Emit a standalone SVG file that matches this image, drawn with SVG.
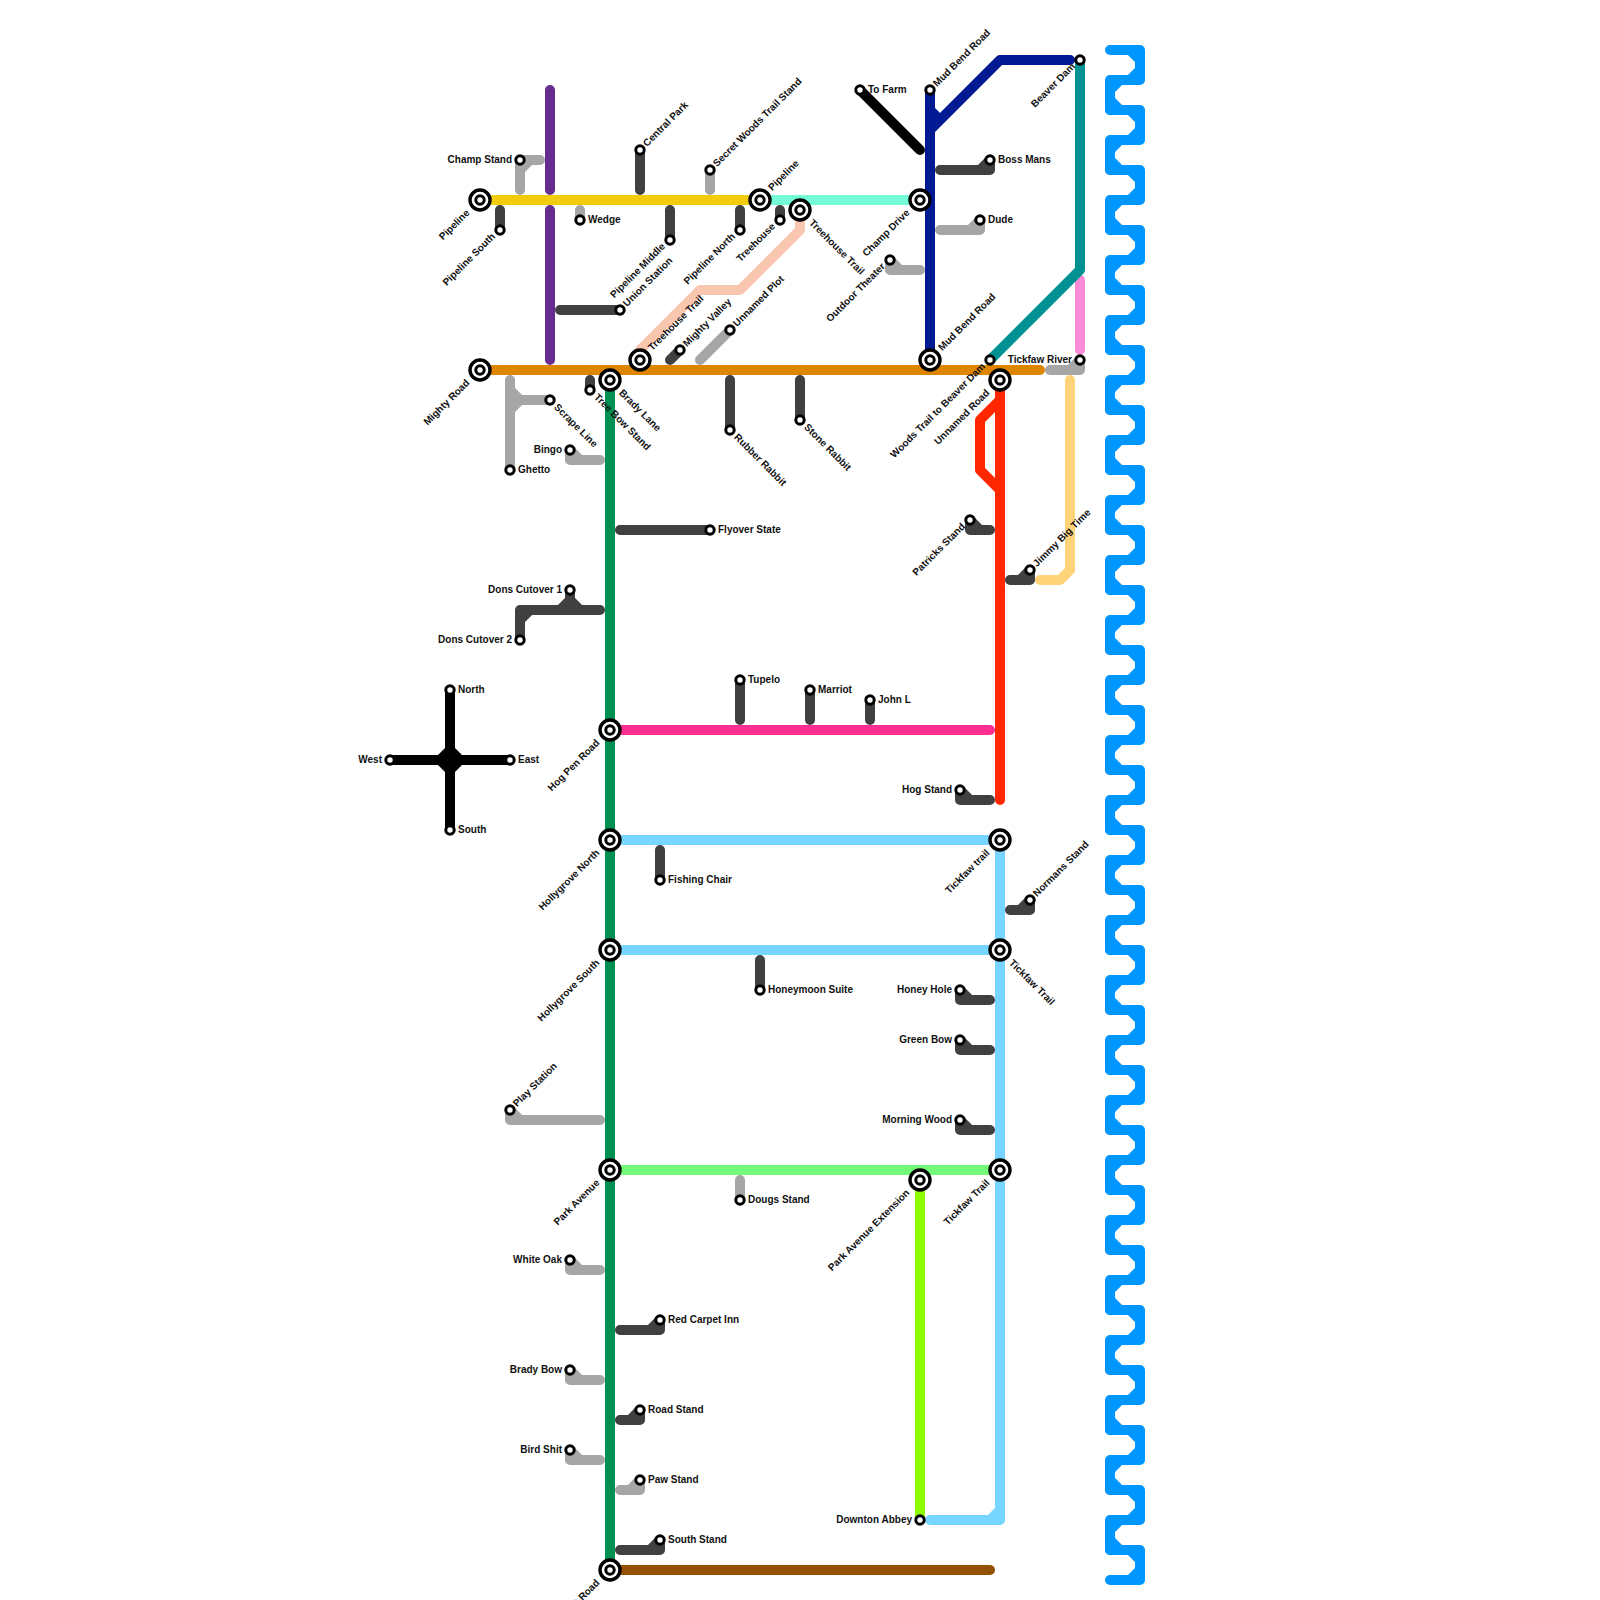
<svg xmlns="http://www.w3.org/2000/svg" width="1600" height="1600" viewBox="0 0 1600 1600">
<style>
.l{fill:none;stroke-width:10;stroke-linecap:round;stroke-linejoin:round}
.dk{stroke:#404040}.gy{stroke:#a6a6a6}.bl{stroke:#000}
.sq{stroke:#0096ff}
.sm{fill:#fff;stroke:#000;stroke-width:3}
.o{fill:#fff;stroke:#000;stroke-width:3.4}
text{font-family:"Liberation Sans",Arial,sans-serif;font-size:10px;font-weight:700;fill:#111}
.e{text-anchor:end}
</style>
<defs>
<circle id="sm" class="sm" r="4.2"/>
<g id="big"><circle class="o" r="10"/><use href="#sm"/></g>
<g id="p1"><path class="l sq" d="M1110 50h30v30h-30v30"/><path class="l sq" style="stroke-linecap:butt" d="M1130 50l10 10m0 10l-10 10m-10 0l-10 10m0 10l10 10"/></g>
<g id="p5"><use href="#p1"/><use href="#p1" y="60"/><use href="#p1" y="120"/><use href="#p1" y="180"/><use href="#p1" y="240"/></g>
</defs>
<rect width="1600" height="1600" fill="#fff"/>
<g id="connectors">
<g id="squiggle"><use href="#p5"/><use href="#p5" y="300"/><use href="#p5" y="600"/><use href="#p5" y="900"/><use href="#p5" y="1200"/><path class="l sq" d="M1110 1550h30v30h-30"/><path class="l sq" style="stroke-linecap:butt" d="M1130 1550l10 10m0 10l-10 10"/></g>
<path class="l" stroke="#662d91" d="M550 90V190M550 210V360"/>
<path class="l gy" d="M520 190V160H540M520 170L530 160"/>
<path class="l dk" d="M640 150V190"/>
<path class="l gy" d="M710 170V190M580 220V210"/>
<path class="l dk" d="M500 230V210M670 240V210M740 230V210M780 220V210M620 310H560M680 350L670 360"/>
<path class="l gy" d="M730 330L700 360"/>
<path class="l" stroke="#f9c7b0" d="M800 210V230L740 290H700L640 350V360"/>
<path class="l" stroke="#f2cd0f" d="M480 200H760"/>
<path class="l" stroke="#73fcd6" d="M760 200H920"/>
<path class="l" stroke="#df8600" d="M480 370H1040"/>
<path class="l gy" d="M510 380V470M550 400H510M510 390L520 400M520 400L510 410"/>
<path class="l dk" d="M590 390V380"/>
<path class="l gy" d="M600 460H570V450M580 460L570 450"/>
<path class="l dk" d="M600 610H520V640M530 610L520 620M570 590V610M560 610L570 600L580 610"/>
<path class="l dk" d="M730 380V430M800 380V420M620 530H710M740 680V720M810 690V720M870 700V720M660 850V880M760 960V990"/>
<path class="l" stroke="#009051" d="M610 380V1570"/>
<path class="l" stroke="#ff2f92" d="M610 730H990"/>
<path class="l" stroke="#76d6ff" d="M610 840H1000M610 950H1000M1000 840V1520H930M990 1520L1000 1510"/>
<path class="l" stroke="#73fa79" d="M610 1170H1000"/>
<path class="l" stroke="#8efa00" d="M920 1180V1520"/>
<path class="l" stroke="#945200" d="M610 1570H990"/>
<path class="l" stroke="#ff2600" d="M1000 380V800M1000 400L980 420V470L1000 490"/>
<path class="l" stroke="#ffd479" d="M1040 580H1060L1070 570V380"/>
<path class="l dk" d="M990 530H970V520M980 530L970 520M1010 580H1030V570M1020 580L1030 570M1010 910H1030V900M1020 910L1030 900"/>
<path class="l dk" d="M990 800H960V790M970 800L960 790M990 1000H960V990M970 1000L960 990M990 1050H960V1040M970 1050L960 1040M990 1130H960V1120M970 1130L960 1120"/>
<path class="l gy" d="M600 1120H510V1110M520 1120L510 1110M740 1200V1180M600 1270H570V1260M580 1270L570 1260M600 1380H570V1370M580 1380L570 1370M600 1460H570V1450M580 1460L570 1450M620 1490H640V1480M630 1490L640 1480"/>
<path class="l dk" d="M620 1330H660V1320M650 1330L660 1320M620 1420H640V1410M630 1420L640 1410M620 1550H660V1540M650 1550L660 1540"/>
<path class="l" stroke="#ff8ad8" d="M1080 280V350"/>
<path class="l" stroke="#009193" d="M1080 60V270L990 360"/>
<path class="l gy" d="M1050 370H1080V360M1070 370L1080 360"/>
<path class="l bl" d="M860 90L920 150"/>
<path class="l" stroke="#011993" d="M930 90V360M1070 60H1000L930 130M930 110L940 120"/>
<path class="l gy" d="M940 230H980V220M970 230L980 220M920 270H890V260M900 270L890 260"/>
<path class="l dk" d="M940 170H990V160M980 170L990 160"/>
<path class="l bl" d="M390 760H510M450 690V830"/>
<path d="M450 743L467 760L450 777L433 760Z" fill="#000"/>
</g>
<g id="n-pipeline"><use href="#big" x="480" y="200"/><text transform="translate(480 200) rotate(-45)" x="-16.5" y="2.5" class="e">Pipeline</text></g>
<g id="n-mighty-road"><use href="#big" x="480" y="370"/><text transform="translate(480 370) rotate(-45)" x="-16.5" y="2.5" class="e">Mighty Road</text></g>
<g id="n-pipeline-east"><use href="#big" x="760" y="200"/><text transform="translate(760 200) rotate(-45)" x="15" y="2.5">Pipeline</text></g>
<g id="n-treehouse-trail"><use href="#big" x="800" y="210"/><text transform="translate(800 210) rotate(45)" x="15.5" y="3.5">Treehouse Trail</text></g>
<g id="n-treehouse-trail-s"><use href="#big" x="640" y="360"/><text transform="translate(640 360) rotate(-45)" x="15" y="2.5">Treehouse Trail</text></g>
<g id="n-champ-drive"><use href="#big" x="920" y="200"/><text transform="translate(920 200) rotate(-45)" x="-16.5" y="2.5" class="e">Champ Drive</text></g>
<g id="n-mud-bend-s"><use href="#big" x="930" y="360"/><text transform="translate(930 360) rotate(-45)" x="15" y="2.5">Mud Bend Road</text></g>
<g id="n-brady-lane"><use href="#big" x="610" y="380"/><text transform="translate(610 380) rotate(45)" x="15.5" y="3.5">Brady Lane</text></g>
<g id="n-unnamed-road"><use href="#big" x="1000" y="380"/><text transform="translate(1000 380) rotate(-45)" x="-16.5" y="2.5" class="e">Unnamed Road</text></g>
<g id="n-hog-pen"><use href="#big" x="610" y="730"/><text transform="translate(610 730) rotate(-45)" x="-16.5" y="2.5" class="e">Hog Pen Road</text></g>
<g id="n-holly-n"><use href="#big" x="610" y="840"/><text transform="translate(610 840) rotate(-45)" x="-16.5" y="2.5" class="e">Hollygrove North</text></g>
<g id="n-holly-s"><use href="#big" x="610" y="950"/><text transform="translate(610 950) rotate(-45)" x="-16.5" y="2.5" class="e">Hollygrove South</text></g>
<g id="n-park"><use href="#big" x="610" y="1170"/><text transform="translate(610 1170) rotate(-45)" x="-16.5" y="2.5" class="e">Park Avenue</text></g>
<g id="n-road"><use href="#big" x="610" y="1570"/><text transform="translate(610 1570) rotate(-45)" x="-16.5" y="2.5" class="e">t Road</text></g>
<g id="n-tickfaw-a"><use href="#big" x="1000" y="840"/><text transform="translate(1000 840) rotate(-45)" x="-16.5" y="2.5" class="e">Tickfaw trail</text></g>
<g id="n-tickfaw-b"><use href="#big" x="1000" y="950"/><text transform="translate(1000 950) rotate(45)" x="15.5" y="3.5">Tickfaw Trail</text></g>
<g id="n-tickfaw-c"><use href="#big" x="1000" y="1170"/><text transform="translate(1000 1170) rotate(-45)" x="-16.5" y="2.5" class="e">Tickfaw Trail</text></g>
<g id="n-park-ext"><use href="#big" x="920" y="1180"/><text transform="translate(920 1180) rotate(-45)" x="-16.5" y="2.5" class="e">Park Avenue Extension</text></g>
<g id="n-champ-stand"><use href="#sm" x="520" y="160"/><text x="512" y="162.5" class="e">Champ Stand</text></g>
<g id="n-central-park"><use href="#sm" x="640" y="150"/><text transform="translate(640 150) rotate(-45)" x="7" y="3">Central Park</text></g>
<g id="n-secret-woods"><use href="#sm" x="710" y="170"/><text transform="translate(710 170) rotate(-45)" x="7" y="3">Secret Woods Trail Stand</text></g>
<g id="n-wedge"><use href="#sm" x="580" y="220"/><text x="588" y="222.5">Wedge</text></g>
<g id="n-pipeline-south"><use href="#sm" x="500" y="230"/><text transform="translate(500 230) rotate(-45)" x="-8" y="2" class="e">Pipeline South</text></g>
<g id="n-pipeline-middle"><use href="#sm" x="670" y="240"/><text transform="translate(670 240) rotate(-45)" x="-8" y="2" class="e">Pipeline Middle</text></g>
<g id="n-pipeline-north"><use href="#sm" x="740" y="230"/><text transform="translate(740 230) rotate(-45)" x="-8" y="2" class="e">Pipeline North</text></g>
<g id="n-treehouse"><use href="#sm" x="780" y="220"/><text transform="translate(780 220) rotate(-45)" x="-8" y="2" class="e">Treehouse</text></g>
<g id="n-union"><use href="#sm" x="620" y="310"/><text transform="translate(620 310) rotate(-45)" x="7" y="3">Union Station</text></g>
<g id="n-mighty-valley"><use href="#sm" x="680" y="350"/><text transform="translate(680 350) rotate(-45)" x="7" y="3">Mighty Valley</text></g>
<g id="n-unnamed-plot"><use href="#sm" x="730" y="330"/><text transform="translate(730 330) rotate(-45)" x="7" y="3">Unnamed Plot</text></g>
<g id="n-to-farm"><use href="#sm" x="860" y="90"/><text x="868" y="92.5">To Farm</text></g>
<g id="n-mud-bend-n"><use href="#sm" x="930" y="90"/><text transform="translate(930 90) rotate(-45)" x="7" y="3">Mud Bend Road</text></g>
<g id="n-beaver"><use href="#sm" x="1080" y="60"/><text transform="translate(1080 60) rotate(-45)" x="-8" y="2" class="e">Beaver Dam</text></g>
<g id="n-boss"><use href="#sm" x="990" y="160"/><text x="998" y="162.5">Boss Mans</text></g>
<g id="n-dude"><use href="#sm" x="980" y="220"/><text x="988" y="222.5">Dude</text></g>
<g id="n-outdoor"><use href="#sm" x="890" y="260"/><text transform="translate(890 260) rotate(-45)" x="-8" y="2" class="e">Outdoor Theater</text></g>
<g id="n-woods"><use href="#sm" x="990" y="360"/><text transform="translate(990 360) rotate(-45)" x="-8" y="2" class="e">Woods Trail to Beaver Dam</text></g>
<g id="n-tickfaw-river"><use href="#sm" x="1080" y="360"/><text x="1072" y="362.5" class="e">Tickfaw River</text></g>
<g id="n-scrape"><use href="#sm" x="550" y="400"/><text transform="translate(550 400) rotate(45)" x="8" y="3">Scrape Line</text></g>
<g id="n-tree-bow"><use href="#sm" x="590" y="390"/><text transform="translate(590 390) rotate(45)" x="8" y="3">Tree Bow Stand</text></g>
<g id="n-ghetto"><use href="#sm" x="510" y="470"/><text x="518" y="472.5">Ghetto</text></g>
<g id="n-bingo"><use href="#sm" x="570" y="450"/><text x="562" y="452.5" class="e">Bingo</text></g>
<g id="n-rubber"><use href="#sm" x="730" y="430"/><text transform="translate(730 430) rotate(45)" x="8" y="3">Rubber Rabbit</text></g>
<g id="n-stone"><use href="#sm" x="800" y="420"/><text transform="translate(800 420) rotate(45)" x="8" y="3">Stone Rabbit</text></g>
<g id="n-flyover"><use href="#sm" x="710" y="530"/><text x="718" y="532.5">Flyover State</text></g>
<g id="n-patricks"><use href="#sm" x="970" y="520"/><text transform="translate(970 520) rotate(-45)" x="-8" y="2" class="e">Patricks Stand</text></g>
<g id="n-jimmy"><use href="#sm" x="1030" y="570"/><text transform="translate(1030 570) rotate(-45)" x="7" y="3">Jimmy Big Time</text></g>
<g id="n-dons1"><use href="#sm" x="570" y="590"/><text x="562" y="592.5" class="e">Dons Cutover 1</text></g>
<g id="n-dons2"><use href="#sm" x="520" y="640"/><text x="512" y="642.5" class="e">Dons Cutover 2</text></g>
<g id="n-tupelo"><use href="#sm" x="740" y="680"/><text x="748" y="682.5">Tupelo</text></g>
<g id="n-marriot"><use href="#sm" x="810" y="690"/><text x="818" y="692.5">Marriot</text></g>
<g id="n-john"><use href="#sm" x="870" y="700"/><text x="878" y="702.5">John L</text></g>
<g id="n-north"><use href="#sm" x="450" y="690"/><text x="458" y="692.5">North</text></g>
<g id="n-south"><use href="#sm" x="450" y="830"/><text x="458" y="832.5">South</text></g>
<g id="n-east"><use href="#sm" x="510" y="760"/><text x="518" y="762.5">East</text></g>
<g id="n-west"><use href="#sm" x="390" y="760"/><text x="382" y="762.5" class="e">West</text></g>
<g id="n-hog-stand"><use href="#sm" x="960" y="790"/><text x="952" y="792.5" class="e">Hog Stand</text></g>
<g id="n-fishing"><use href="#sm" x="660" y="880"/><text x="668" y="882.5">Fishing Chair</text></g>
<g id="n-normans"><use href="#sm" x="1030" y="900"/><text transform="translate(1030 900) rotate(-45)" x="7" y="3">Normans Stand</text></g>
<g id="n-honeymoon"><use href="#sm" x="760" y="990"/><text x="768" y="992.5">Honeymoon Suite</text></g>
<g id="n-honey"><use href="#sm" x="960" y="990"/><text x="952" y="992.5" class="e">Honey Hole</text></g>
<g id="n-green-bow"><use href="#sm" x="960" y="1040"/><text x="952" y="1042.5" class="e">Green Bow</text></g>
<g id="n-morning"><use href="#sm" x="960" y="1120"/><text x="952" y="1122.5" class="e">Morning Wood</text></g>
<g id="n-play"><use href="#sm" x="510" y="1110"/><text transform="translate(510 1110) rotate(-45)" x="7" y="3">Play Station</text></g>
<g id="n-dougs"><use href="#sm" x="740" y="1200"/><text x="748" y="1202.5">Dougs Stand</text></g>
<g id="n-white-oak"><use href="#sm" x="570" y="1260"/><text x="562" y="1262.5" class="e">White Oak</text></g>
<g id="n-red-carpet"><use href="#sm" x="660" y="1320"/><text x="668" y="1322.5">Red Carpet Inn</text></g>
<g id="n-brady-bow"><use href="#sm" x="570" y="1370"/><text x="562" y="1372.5" class="e">Brady Bow</text></g>
<g id="n-road-stand"><use href="#sm" x="640" y="1410"/><text x="648" y="1412.5">Road Stand</text></g>
<g id="n-bird"><use href="#sm" x="570" y="1450"/><text x="562" y="1452.5" class="e">Bird Shit</text></g>
<g id="n-paw"><use href="#sm" x="640" y="1480"/><text x="648" y="1482.5">Paw Stand</text></g>
<g id="n-south-stand"><use href="#sm" x="660" y="1540"/><text x="668" y="1542.5">South Stand</text></g>
<g id="n-downton"><use href="#sm" x="920" y="1520"/><text x="912" y="1522.5" class="e">Downton Abbey</text></g>
</svg>
